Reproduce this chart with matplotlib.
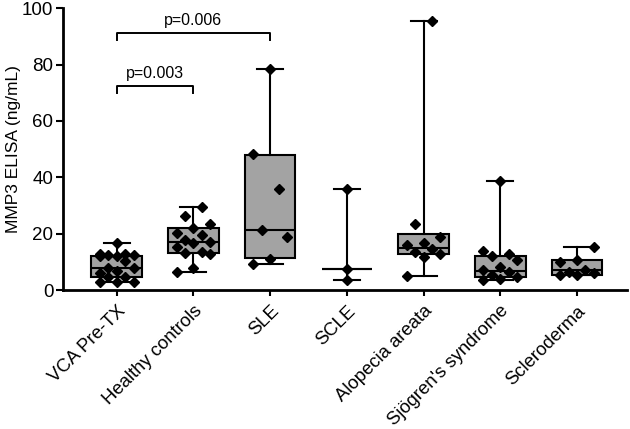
import matplotlib.pyplot as plt
import numpy as np

plt.rcParams['font.family'] = ['Liberation Sans', 'DejaVu Sans']

groups = ['VCA Pre-TX', 'Healthy controls', 'SLE', 'SCLE', 'Alopecia areata',
          "Sjögren's syndrome", 'Scleroderma']

# individual values (ng/mL)
vca = [16.7, 12.7, 12.5, 12.3, 12.6, 12.2, 12.0, 7.9, 7.7, 6.9, 5.9, 4.7,
       4.5, 2.8, 2.7, 3.0, 10.3]
healthy = [29.5, 26.2, 23.4, 21.9, 20.1, 19.6, 17.7, 17.1, 16.5, 15.4, 13.6,
           13.0, 12.7, 7.8, 6.3]
sle = [78.5, 48.1, 35.7, 21.3, 18.9, 10.9, 9.1]
scle = [35.7, 7.3, 3.5]
alopecia = [95.5, 23.4, 18.9, 16.5, 16.0, 14.4, 13.6, 12.7, 11.8, 5.1]
sjogren = [38.7, 13.9, 12.7, 12.2, 10.6, 8.3, 7.1, 6.5, 5.3, 4.5, 3.8, 3.5]
sclero = [15.2, 10.6, 10.0, 7.1, 6.5, 5.9, 5.3, 5.5]
values = [vca, healthy, sle, scle, alopecia, sjogren, sclero]

# box summary as drawn (min, q1, median, q3, max)
box_min = [2.7, 6.3, 9.1, 3.5, 5.1, 3.5, 5.3]
box_q1 = [4.6, 13.0, 11.2, 7.3, 12.7, 4.5, 5.3]
box_med = [7.9, 17.1, 21.3, 7.3, 14.8, 6.6, 7.1]
box_q3 = [12.2, 21.9, 47.9, 7.3, 19.9, 12.2, 10.6]
box_max = [16.7, 29.5, 78.5, 35.7, 95.5, 38.7, 15.2]

# comparisons: (group a, group b, bracket height, label)
comparisons = [(0, 1, 72.3, 'p=0.003'), (0, 2, 91.1, 'p=0.006')]

fig = plt.figure(figsize=(6.3, 4.29), dpi=100)
ax = fig.add_axes([0.1, 0.324, 0.895, 0.657])

stats = []
for i in range(len(groups)):
    stats.append(dict(whislo=box_min[i], q1=box_q1[i], med=box_med[i],
                      q3=box_q3[i], whishi=box_max[i], fliers=[]))

lw = 1.5
ax.bxp(stats, positions=range(len(groups)), widths=0.66, patch_artist=True,
       showfliers=False,
       boxprops=dict(facecolor='#a3a3a3', edgecolor='black', linewidth=lw),
       medianprops=dict(color='black', linewidth=lw),
       whiskerprops=dict(color='black', linewidth=lw),
       capprops=dict(color='black', linewidth=lw), capwidths=0.34,
       zorder=2)

# points spread in columns across the box
cols = [-0.22, 0.0, 0.22, -0.11, 0.11]
for i, v in enumerate(values):
    v = sorted(v)
    xs = [i + cols[k % len(cols)] for k in range(len(v))]
    if len(v) <= 3:
        xs = [i] * len(v)
    ax.plot(xs, v, 'D', color='black', markersize=5, zorder=3)

for a, b, h, label in comparisons:
    ax.plot([a, a, b, b], [h - 2.5, h, h, h - 2.5], color='black',
            linewidth=1.4, clip_on=False)
    ax.text((a + b) / 2, h + 2.0, label, ha='center', va='bottom',
            fontsize=11.5)

ax.set_xlim(-0.7, 6.65)
ax.set_ylim(0, 100)
ax.set_yticks(np.arange(0, 101, 20))
ax.set_xticks(range(len(groups)))
ax.set_xticklabels(groups, rotation=45, ha='right', rotation_mode='anchor',
                   fontsize=13.3)
ax.set_ylabel('MMP3 ELISA (ng/mL)', fontsize=12.5)
ax.yaxis.set_label_coords(-0.074, 0.5)
ax.tick_params(axis='y', labelsize=13.5, width=1.5, length=5, pad=2)
ax.tick_params(axis='x', width=1.5, length=4, pad=5)
for s in ['top', 'right']:
    ax.spines[s].set_visible(False)
for s in ['left', 'bottom']:
    ax.spines[s].set_linewidth(2)

fig.savefig('out.png', dpi=100)
